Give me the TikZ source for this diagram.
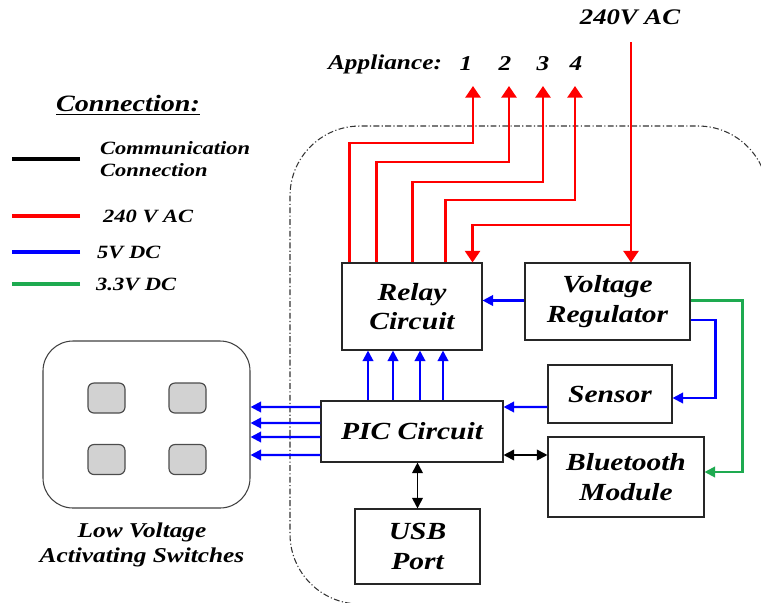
\documentclass[tikz,border=0pt]{standalone}
\usepackage{fontspec}
\setmainfont{Liberation Serif}[FakeStretch=1.2]
\usetikzlibrary{arrows.meta}
\definecolor{dcgreen}{RGB}{30,170,80}

\begin{document}
\begin{tikzpicture}[
    x=0.03cm, y=-0.03cm,
    block/.style={
        rectangle, draw=black!85, line width=0.9pt, fill=white,
        align=center, font=\fontsize{21}{25}\selectfont\bfseries\itshape
    },
    panel/.style={
        rectangle, draw=black!75, line width=0.9pt, rounded corners=0.9cm
    },
    key/.style={
        rectangle, draw=black!70, line width=1pt, fill=gray!35,
        rounded corners=0.18cm, minimum width=1.11cm, minimum height=0.9cm
    },
    lbl/.style={font=\fontsize{18}{22}\selectfont\bfseries\itshape, align=center},
    leg/.style={font=\fontsize{16}{19}\selectfont\bfseries\itshape, align=left,
        anchor=west, inner sep=0pt},
    ac/.style={draw=red, line width=2pt, >={Triangle[width=13pt,length=10pt]}},
    dc/.style={draw=blue, line width=1.8pt},
    dcthree/.style={draw=dcgreen, line width=1.8pt},
    com/.style={draw=black, line width=1.5pt},
    >={Triangle[width=9pt,length=9pt]}
]

\useasboundingbox (0,0) rectangle (761,602);
\clip (0,0) rectangle (761,602);

% controller board outline
\draw[black!80, line width=0.9pt, dash pattern=on 5pt off 2pt on 1pt off 2pt,
    rounded corners=2.1cm] (768,400) -- (768,126) -- (290,126) -- (290,604) -- (640,604);

% legend
\node[lbl, font=\fontsize{20}{24}\selectfont\bfseries\itshape] (legtitle) at (128,105) {\underline{Connection:}};
\node[leg] (lcom) at (100,159) {Communication\\Connection};
\node[leg] (lac)  at (103,216) {240 V AC};
\node[leg] (ldcf) at (97,252)  {5V DC};
\node[leg] (ldct) at (96,284)  {3.3V DC};
\draw[black, line width=3.4pt]   ([xshift=-0.6cm]lcom.west)  -- ++(-68,0);
\draw[red, line width=3.4pt]     ([xshift=-0.69cm]lac.west)  -- ++(-68,0);
\draw[blue, line width=3.4pt]    ([xshift=-0.51cm]ldcf.west) -- ++(-68,0);
\draw[dcgreen, line width=3.4pt] ([xshift=-0.48cm]ldct.west) -- ++(-68,0);

% top labels
\node[lbl] (appl) at (385,64) {Appliance:};
\node[lbl] (nA) at (466,64) {1};
\node[lbl] (nB) at (505,64) {2};
\node[lbl] (nC) at (543,64) {3};
\node[lbl] (nD) at (576,64) {4};
\node[lbl, font=\fontsize{19}{23}\selectfont\bfseries\itshape] (acl) at (630,17) {240V AC};

% blocks
\node[block, minimum width=4.2cm,  minimum height=2.61cm] (relay)  at (412,306.5) {Relay\\Circuit};
\node[block, minimum width=4.95cm, minimum height=2.31cm] (volt)   at (607.5,301.5) {Voltage\\Regulator};
\node[block, minimum width=3.72cm, minimum height=1.74cm] (sensor) at (610,394) {Sensor};
\node[block, minimum width=4.68cm, minimum height=2.4cm]  (bt)     at (626,477) {Bluetooth\\Module};
\node[block, minimum width=5.46cm, minimum height=1.83cm] (pic)    at (412,431.5) {PIC Circuit};
\node[block, minimum width=3.75cm, minimum height=2.25cm] (usb)    at (417.5,546.5) {USB\\Port};

% switches
\node[panel, minimum width=6.21cm, minimum height=5.01cm] (sw) at (146.5,424.5) {};
\node[key] (kA) at (106.5,398)   {};
\node[key] (kB) at (187.5,398)   {};
\node[key] (kC) at (106.5,459.5) {};
\node[key] (kD) at (187.5,459.5) {};
\node[lbl] (swlbl) at (142,545) {Low Voltage\\Activating Switches};

% 240V AC lines
\coordinate (aA) at (473,86);
\coordinate (aB) at (509,86);
\coordinate (aC) at (543,86);
\coordinate (aD) at (575,86);
\coordinate (bA) at (473,143);
\coordinate (bB) at (509,162);
\coordinate (bC) at (543,182);
\coordinate (bD) at (575,200);
\coordinate (acin) at (631,42);
\coordinate (acj)  at (631,225);

\draw[ac,->] ([xshift=0.24cm]relay.north west) |- (bA) -- (aA);
\draw[ac,->] ([xshift=1.05cm]relay.north west) |- (bB) -- (aB);
\draw[ac,->] ([xshift=2.13cm]relay.north west) |- (bC) -- (aC);
\draw[ac,->] ([xshift=3.12cm]relay.north west) |- (bD) -- (aD);
\draw[ac,->] (acin) -- (acin |- volt.north);
\draw[ac,->] (acj) -| ([xshift=-0.3cm]relay.north east);

% 5V DC lines
\draw[dc,->] ([yshift=0.03cm]volt.west) -- ([yshift=0.03cm]volt.west -| relay.east);
\draw[dc,->] ([yshift=-0.555cm]volt.east) -- ++(25,0) |- ([yshift=-0.12cm]sensor.east);
\draw[dc,->] ([yshift=-0.39cm]sensor.west) -- ([yshift=0.735cm]pic.east);
\draw[dc,->] ([xshift=-1.32cm]pic.north) -- ([xshift=-1.32cm]relay.south);
\draw[dc,->] ([xshift=-0.57cm]pic.north) -- ([xshift=-0.57cm]relay.south);
\draw[dc,->] ([xshift=0.24cm]pic.north)  -- ([xshift=0.24cm]relay.south);
\draw[dc,->] ([xshift=0.93cm]pic.north)  -- ([xshift=0.93cm]relay.south);
\draw[dc,->] ([yshift=0.735cm]pic.west)  -- ([yshift=0.525cm]sw.east);
\draw[dc,->] ([yshift=0.255cm]pic.west)  -- ([yshift=0.045cm]sw.east);
\draw[dc,->] ([yshift=-0.165cm]pic.west) -- ([yshift=-0.375cm]sw.east);
\draw[dc,->] ([yshift=-0.705cm]pic.west) -- ([yshift=-0.915cm]sw.east);

% 3.3V DC line
\draw[dcthree,->] ([yshift=0.03cm]volt.east) -- ++(52,0) |- ([yshift=0.15cm]bt.east);

% communication
\draw[com,<->] ([yshift=-0.705cm]pic.east) -- ([yshift=0.66cm]bt.west);
\draw[com,<->] (usb.north |- pic.south) -- (usb.north);

\end{tikzpicture}
\end{document}
